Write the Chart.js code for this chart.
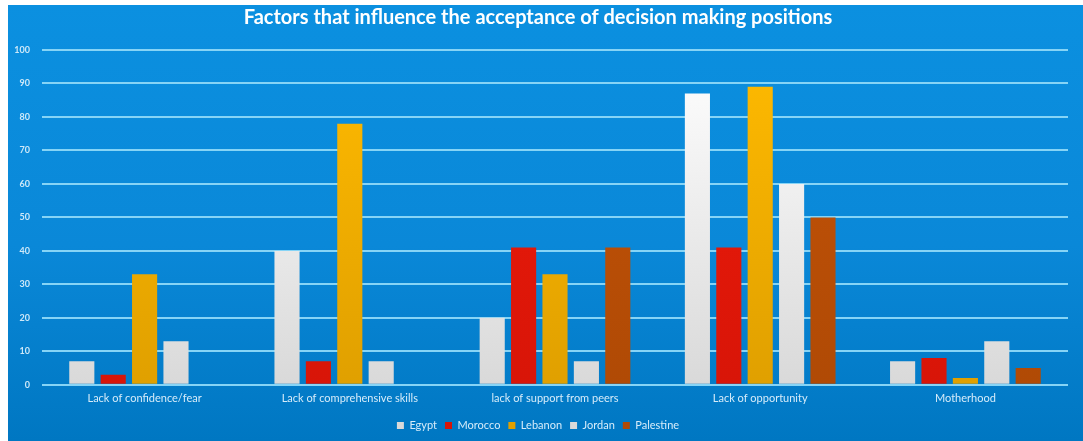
<!DOCTYPE html>
<html>
<head>
<meta charset="utf-8">
<script src="https://cdn.jsdelivr.net/npm/chart.js@4"></script>
<style>
  html, body { margin: 0; padding: 0; background: #ffffff; }
  #wrap {
    position: absolute; left: 8px; top: 5px; width: 1075px; height: 436px;
    background: linear-gradient(to bottom, #0b90e0 0%, #0a88d8 55%, #0077c2 100%);
  }
</style>
</head>
<body>
<div id="wrap"><canvas id="chart"></canvas></div>
<script>
// ── DATA ──
const categories = ['Lack of confidence/fear', 'Lack of comprehensive skills', 'lack of support from peers', 'Lack of opportunity', 'Motherhood'];
const egypt     = [7, 40, 20, 87, 7];
const morocco   = [3, 7, 41, 41, 8];
const lebanon   = [33, 78, 33, 89, 2];
const jordan    = [13, 7, 7, 60, 13];
const palestine = [0, 0, 41, 50, 5];
const yTicks    = [0, 10, 20, 30, 40, 50, 60, 70, 80, 90, 100];

const FONT = "Lato, 'Open Sans', sans-serif";

// vertical gradient for a bar colour
function grad(ctx, top, bottom) {
    const { chart } = ctx;
    const area = chart.chartArea;
    if (!area) return top;
    const g = chart.ctx.createLinearGradient(0, area.top, 0, area.bottom);
    g.addColorStop(0, top);
    g.addColorStop(1, bottom);
    return g;
}

const series = [
    { label: 'Egypt',     data: egypt,     c: ['#ffffff', '#d9d9d9'] },
    { label: 'Morocco',   data: morocco,   c: ['#ee1c0a', '#d81508'] },
    { label: 'Lebanon',   data: lebanon,   c: ['#ffba00', '#e0a000'] },
    { label: 'Jordan',    data: jordan,    c: ['#ffffff', '#d9d9d9'] },
    { label: 'Palestine', data: palestine, c: ['#c45308', '#b04a05'] },
];

new Chart(document.getElementById('chart'), {
    type: 'bar',
    data: {
        labels: categories,
        datasets: series.map(s => ({
            label: s.label,
            data: s.data,
            backgroundColor: ctx => grad(ctx, s.c[0], s.c[1]),
            borderWidth: 0,
            categoryPercentage: 0.765,
            barPercentage: 0.8,
        }))
    },
    options: {
        responsive: true,
        maintainAspectRatio: false,
        animation: false,
        layout: { padding: { left: 0, right: 15, top: 0, bottom: 0 } },
        plugins: {
            title: {
                display: true,
                text: 'Factors that influence the acceptance of decision making positions',
                color: '#ffffff',
                font: { family: FONT, size: 20, weight: 'bold' },
                padding: { top: 1, bottom: 20 }
            },
            legend: {
                position: 'bottom',
                labels: {
                    color: '#d6ecfa',
                    font: { family: FONT, size: 11 },
                    boxWidth: 7,
                    boxHeight: 7,
                    padding: 8,
                    generateLabels: chart => chart.data.datasets.map((ds, i) => ({
                        text: ds.label,
                        fillStyle: series[i].c[1],
                        strokeStyle: series[i].c[1],
                        lineWidth: 0,
                        datasetIndex: i,
                        fontColor: '#d6ecfa'
                    }))
                }
            },
            tooltip: { enabled: false }
        },
        scales: {
            x: {
                grid: { display: false, drawTicks: false },
                border: { display: false },
                ticks: {
                    color: '#d6ecfa',
                    font: { family: FONT, size: 11 },
                    padding: 7,
                    maxRotation: 0
                }
            },
            y: {
                min: 0,
                max: 100,
                afterFit: scale => { scale.width = 34; },
                afterBuildTicks: scale => { scale.ticks = yTicks.map(v => ({ value: v })); },
                grid: { color: '#86d4f6', lineWidth: 2, drawTicks: false },
                border: { display: false },
                ticks: {
                    color: '#cde8f8',
                    font: { family: FONT, size: 9, weight: 'bold' },
                    padding: 12
                }
            }
        }
    }
});
</script>
</body>
</html>
